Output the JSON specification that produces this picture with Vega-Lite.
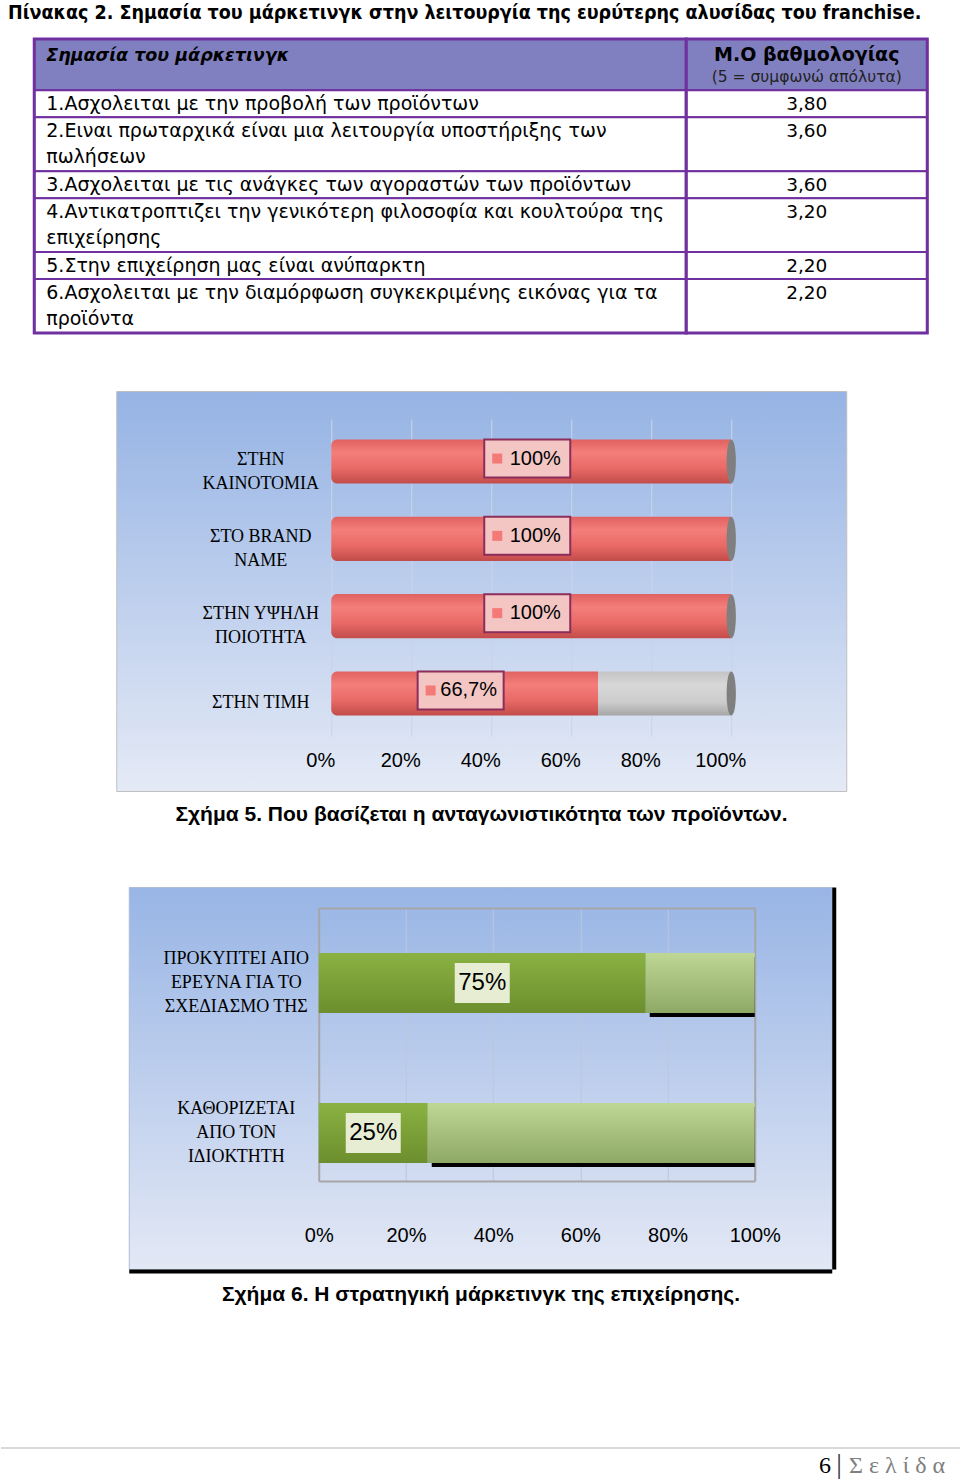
{
  "$schema": "https://vega.github.io/schema/vega-lite/v6.json",
  "background": "white",
  "padding": {"top": 3, "bottom": 0, "left": 0, "right": 0},
  "title": {
    "text": "Πίνακας 2. Σημασία του μάρκετινγκ στην λειτουργία της ευρύτερης αλυσίδας  του franchise.",
    "anchor": "start",
    "frame": "group",
    "font": "Liberation Sans Narrow, DejaVu Sans Condensed, Liberation Sans",
    "fontSize": 19.5,
    "fontWeight": "bold",
    "color": "#000000",
    "offset": 14,
    "dx": 7
  },
  "spacing": 0,
  "bounds": "full",
  "center": true,
  "resolve": {"scale": {"x": "independent", "y": "independent"}},
  "config": {
    "view": {"stroke": null},
    "axis": {"labelFlush": false, "labelOverlap": false}
  },
  "datasets": {
    "table": [
      {"n": 0, "desc": "Σημασία του μάρκετινγκ", "scoreLabel": "Μ.Ο βαθμολογίας", "note": "(5 = συμφωνώ απόλυτα)"},
      {"n": 1, "desc": "1.Ασχολειται με την προβολή των προϊόντων", "score": 3.8},
      {"n": 2, "desc": ["2.Ειναι πρωταρχικά είναι μια λειτουργία υποστήριξης των", "πωλήσεων"], "score": 3.6},
      {"n": 3, "desc": "3.Ασχολειται με τις ανάγκες των αγοραστών των προϊόντων", "score": 3.6},
      {"n": 4, "desc": ["4.Αντικατροπτιζει την γενικότερη φιλοσοφία και κουλτούρα της", "επιχείρησης"], "score": 3.2},
      {"n": 5, "desc": "5.Στην επιχείρηση μας είναι ανύπαρκτη", "score": 2.2},
      {"n": 6, "desc": ["6.Ασχολειται με την διαμόρφωση συγκεκριμένης εικόνας για τα", "προϊόντα"], "score": 2.2}
    ],
    "c1": [
      {"cat": "ΣΤΗΝ\nΚΑΙΝΟΤΟΜΙΑ", "grp": "Ναι", "pct": 1},
      {"cat": "ΣΤΗΝ\nΚΑΙΝΟΤΟΜΙΑ", "grp": "Όχι", "pct": 0},
      {"cat": "ΣΤΟ BRAND\nNAME", "grp": "Ναι", "pct": 1},
      {"cat": "ΣΤΟ BRAND\nNAME", "grp": "Όχι", "pct": 0},
      {"cat": "ΣΤΗΝ ΥΨΗΛΗ\nΠΟΙΟΤΗΤΑ", "grp": "Ναι", "pct": 1},
      {"cat": "ΣΤΗΝ ΥΨΗΛΗ\nΠΟΙΟΤΗΤΑ", "grp": "Όχι", "pct": 0},
      {"cat": "ΣΤΗΝ ΤΙΜΗ", "grp": "Ναι", "pct": 0.667},
      {"cat": "ΣΤΗΝ ΤΙΜΗ", "grp": "Όχι", "pct": 0.333}
    ],
    "c2": [
      {"cat": "ΠΡΟΚΥΠΤΕΙ ΑΠΟ\nΕΡΕΥΝΑ ΓΙΑ ΤΟ\nΣΧΕΔΙΑΣΜΟ ΤΗΣ", "grp": "Ναι", "pct": 0.75},
      {"cat": "ΠΡΟΚΥΠΤΕΙ ΑΠΟ\nΕΡΕΥΝΑ ΓΙΑ ΤΟ\nΣΧΕΔΙΑΣΜΟ ΤΗΣ", "grp": "Όχι", "pct": 0.25},
      {"cat": "ΚΑΘΟΡΙΖΕΤΑΙ\nΑΠΟ ΤΟΝ\nΙΔΙΟΚΤΗΤΗ", "grp": "Ναι", "pct": 0.25},
      {"cat": "ΚΑΘΟΡΙΖΕΤΑΙ\nΑΠΟ ΤΟΝ\nΙΔΙΟΚΤΗΤΗ", "grp": "Όχι", "pct": 0.75}
    ]
  },
  "vconcat": [
    {
      "data": {"name": "table"},
      "transform": [
        {"calculate": "datum.n == 0 ? 1.9 : (isArray(datum.desc) ? length(datum.desc) : 1)", "as": "h"},
        {"window": [{"op": "sum", "field": "h", "as": "y1"}], "sort": [{"field": "n", "order": "ascending"}], "frame": [null, 0]},
        {"calculate": "datum.y1 - datum.h", "as": "y0"}
      ],
      "spacing": 0,
      "bounds": "flush",
      "hconcat": [
        {
          "width": 652,
          "height": 351,
          "layer": [
            {
              "mark": {"type": "rect", "stroke": "#7030A0", "strokeWidth": 2},
              "encoding": {
                "y": {"field": "y0", "type": "quantitative", "scale": {"domain": [0, 10.9], "range": [0, 294], "nice": false, "zero": false}, "axis": null},
                "y2": {"field": "y1"},
                "fill": {"condition": {"test": "datum.n == 0", "value": "#8080C0"}, "value": "#FFFFFF"}
              }
            },
            {
              "transform": [{"aggregate": [{"op": "min", "field": "y0", "as": "top"}, {"op": "max", "field": "y1", "as": "bottom"}]}],
              "mark": {"type": "rect", "fill": "#FFFFFF", "fillOpacity": 0, "stroke": "#7030A0", "strokeWidth": 3},
              "encoding": {"y": {"field": "top", "type": "quantitative"}, "y2": {"field": "bottom"}}
            },
            {
              "transform": [{"filter": "datum.n == 0"}],
              "mark": {"type": "text", "align": "left", "baseline": "top", "dx": 12, "dy": 8, "font": "DejaVu Sans", "fontSize": 17.5, "fontWeight": "bold", "fontStyle": "italic", "color": "#000000"},
              "encoding": {"x": {"value": 0}, "y": {"field": "y0", "type": "quantitative"}, "text": {"field": "desc"}}
            },
            {
              "transform": [{"filter": "datum.n > 0"}],
              "mark": {"type": "text", "align": "left", "baseline": "top", "dx": 12, "dy": 5, "font": "DejaVu Sans", "fontSize": 19, "lineHeight": 26, "color": "#000000"},
              "encoding": {"x": {"value": 0}, "y": {"field": "y0", "type": "quantitative"}, "text": {"field": "desc"}}
            }
          ]
        },
        {
          "width": 241,
          "height": 351,
          "layer": [
            {
              "mark": {"type": "rect", "stroke": "#7030A0", "strokeWidth": 2},
              "encoding": {
                "y": {"field": "y0", "type": "quantitative", "scale": {"domain": [0, 10.9], "range": [0, 294], "nice": false, "zero": false}, "axis": null},
                "y2": {"field": "y1"},
                "fill": {"condition": {"test": "datum.n == 0", "value": "#8080C0"}, "value": "#FFFFFF"}
              }
            },
            {
              "transform": [{"aggregate": [{"op": "min", "field": "y0", "as": "top"}, {"op": "max", "field": "y1", "as": "bottom"}]}],
              "mark": {"type": "rect", "fill": "#FFFFFF", "fillOpacity": 0, "stroke": "#7030A0", "strokeWidth": 3},
              "encoding": {"y": {"field": "top", "type": "quantitative"}, "y2": {"field": "bottom"}}
            },
            {
              "transform": [{"filter": "datum.n == 0"}],
              "mark": {"type": "text", "align": "center", "baseline": "top", "dy": 7, "font": "DejaVu Sans", "fontSize": 19, "fontWeight": "bold", "color": "#000000"},
              "encoding": {"y": {"field": "y0", "type": "quantitative"}, "text": {"field": "scoreLabel"}}
            },
            {
              "transform": [{"filter": "datum.n == 0"}],
              "mark": {"type": "text", "align": "center", "baseline": "top", "dy": 31, "font": "DejaVu Sans", "fontSize": 15.5, "color": "#222222"},
              "encoding": {"y": {"field": "y0", "type": "quantitative"}, "text": {"field": "note"}}
            },
            {
              "transform": [{"filter": "datum.n > 0"}, {"calculate": "replace(format(datum.score, '.2f'), '.', ',')", "as": "scoreText"}],
              "mark": {"type": "text", "align": "center", "baseline": "top", "dy": 5, "font": "DejaVu Sans", "fontSize": 18.5, "color": "#000000"},
              "encoding": {"y": {"field": "y0", "type": "quantitative"}, "text": {"field": "scoreText"}}
            }
          ]
        }
      ]
    },
    {
      "width": 730,
      "height": 400,
      "view": {
        "fill": {"gradient": "linear", "x1": 0, "y1": 0, "x2": 0, "y2": 1, "stops": [{"offset": 0, "color": "#95B3E4"}, {"offset": 1, "color": "#E5EAF6"}]},
        "stroke": "#BFBFBF",
        "strokeWidth": 1
      },
      "data": {"name": "c1"},
      "transform": [
        {"stack": "pct", "groupby": ["cat"], "sort": [{"field": "grp", "order": "descending"}], "as": ["x0", "x1"]},
        {"calculate": "(datum.x0 + datum.x1) / 2", "as": "mid"},
        {"calculate": "replace(format(datum.pct, '.1~%'), '.', ',')", "as": "lbl"}
      ],
      "encoding": {
        "y": {
          "field": "cat", "type": "nominal", "sort": null,
          "scale": {"range": [28, 345], "paddingInner": 0.43, "paddingOuter": 0.265},
          "axis": {"orient": "left", "offset": -144, "labelPadding": 0, "labelAlign": "center", "labelBaseline": "middle",
            "labelOffset": {"condition": {"test": "indexof(datum.value, '\\n') >= 0", "value": -2}, "value": 10},
            "labelExpr": "split(datum.label, '\\n')", "labelFont": "Liberation Serif", "labelFontSize": 18, "labelLineHeight": 24, "labelColor": "#000000", "labelLimit": 0, "domain": false, "ticks": false, "grid": false, "title": null}
        }
      },
      "layer": [
        {
          "transform": [{"filter": "datum.grp == 'Ναι'"}],
          "mark": {"type": "bar", "cornerRadiusTopLeft": 6, "cornerRadiusBottomLeft": 6,
            "color": {"gradient": "linear", "x1": 0, "y1": 0, "x2": 0, "y2": 1, "stops": [{"offset": 0, "color": "#E06260"}, {"offset": 0.3, "color": "#F47E7B"}, {"offset": 0.65, "color": "#E96A67"}, {"offset": 1, "color": "#C24C4A"}]}},
          "encoding": {
            "x": {"field": "x0", "type": "quantitative", "scale": {"domain": [0, 1], "range": [215, 615], "nice": false, "zero": false},
              "axis": {"orient": "bottom", "offset": -45, "values": [0, 0.2, 0.4, 0.6, 0.8, 1], "format": ".0%", "labelOffset": -11, "labelPadding": 4, "labelBaseline": "top", "labelFont": "Liberation Sans", "labelFontSize": 20, "labelColor": "#000000", "domain": false, "ticks": false, "grid": false, "title": null}},
            "x2": {"field": "x1"}
          }
        },
        {
          "transform": [{"filter": "datum.grp == 'Όχι' && datum.pct > 0"}],
          "mark": {"type": "bar",
            "color": {"gradient": "linear", "x1": 0, "y1": 0, "x2": 0, "y2": 1, "stops": [{"offset": 0, "color": "#C4C4C4"}, {"offset": 0.3, "color": "#D8D8D8"}, {"offset": 0.7, "color": "#CCCCCC"}, {"offset": 1, "color": "#A6A6A6"}]}},
          "encoding": {"x": {"field": "x0", "type": "quantitative", "axis": null}, "x2": {"field": "x1"}}
        },
        {
          "transform": [{"filter": "datum.grp == 'Ναι'"}],
          "mark": {"type": "point", "shape": "M0,-1C0.28,-1 0.28,1 0,1C-0.28,1 -0.28,-1 0,-1Z", "size": 1936, "filled": true, "color": "#7F7F7F", "opacity": 1},
          "encoding": {
            "x": {"datum": 1, "type": "quantitative",
              "axis": {"orient": "top", "values": [0, 0.2, 0.4, 0.6, 0.8, 1], "domain": false, "ticks": false, "labels": false, "grid": true, "gridColor": "#C9D3E8", "gridWidth": 1, "title": null}}
          }
        },
        {
          "transform": [{"filter": "datum.grp == 'Ναι'"}],
          "mark": {"type": "point", "shape": "M-1,-0.442H1V0.442H-1Z", "size": 7396, "filled": true, "fill": "#F3C6C4", "stroke": "#8C2D5B", "strokeWidth": 2, "opacity": 1, "xOffset": -4, "yOffset": -3},
          "encoding": {"x": {"field": "mid", "type": "quantitative", "axis": null}}
        },
        {
          "transform": [{"filter": "datum.grp == 'Ναι'"}],
          "mark": {"type": "point", "shape": "square", "size": 100, "filled": true, "color": "#F47A78", "opacity": 1, "xOffset": -34, "yOffset": -3},
          "encoding": {"x": {"field": "mid", "type": "quantitative", "axis": null}}
        },
        {
          "transform": [{"filter": "datum.grp == 'Ναι'"}],
          "mark": {"type": "text", "font": "Liberation Sans", "fontSize": 20, "dx": 4, "dy": -3, "color": "#000000"},
          "encoding": {"x": {"field": "mid", "type": "quantitative", "axis": null}, "text": {"field": "lbl"}}
        }
      ],
      "resolve": {"axis": {"x": "independent"}}
    },
    {
      "width": 960,
      "height": 94,
      "data": {"values": [{"caption": "Σχήμα 5. Που βασίζεται η ανταγωνιστικότητα των προϊόντων."}]},
      "mark": {"type": "text", "font": "Liberation Sans", "fontSize": 21, "fontWeight": "bold", "dy": -24, "color": "#000000"},
      "encoding": {"text": {"field": "caption"}}
    },
    {
      "width": 703,
      "height": 382,
      "view": {
        "fill": {"gradient": "linear", "x1": 0, "y1": 0, "x2": 0, "y2": 1, "stops": [{"offset": 0, "color": "#98B5E5"}, {"offset": 1, "color": "#E3E8F5"}]},
        "stroke": "#AEBCD8",
        "strokeWidth": 1
      },
      "layer": [
        {
          "data": {"name": "c2"},
          "transform": [
            {"stack": "pct", "groupby": ["cat"], "sort": [{"field": "grp", "order": "descending"}], "as": ["x0", "x1"]},
            {"calculate": "(datum.x0 + datum.x1) / 2", "as": "mid"},
            {"calculate": "replace(format(datum.pct, '.1~%'), '.', ',')", "as": "lbl"}
          ],
          "encoding": {
            "y": {
              "field": "cat", "type": "nominal", "sort": null,
              "scale": {"range": [21, 294], "paddingInner": 0.6, "paddingOuter": 0.21, "align": 0.714},
              "axis": {"orient": "left", "offset": -107, "labelPadding": 0, "labelAlign": "center", "labelBaseline": "middle", "labelOffset": -24, "labelExpr": "split(datum.label, '\\n')", "labelFont": "Liberation Serif", "labelFontSize": 18, "labelLineHeight": 24, "labelColor": "#000000", "labelLimit": 0, "domain": false, "ticks": false, "grid": false, "title": null}
            }
          },
          "layer": [
            {
              "transform": [{"filter": "datum.grp == 'Όχι'"}],
              "mark": {"type": "bar", "color": "#000000", "xOffset": 4, "yOffset": 4},
              "encoding": {
                "x": {"field": "x0", "type": "quantitative", "scale": {"domain": [0, 1], "range": [190, 626], "nice": false, "zero": false},
                  "axis": {"orient": "bottom", "offset": -88, "values": [0, 0.2, 0.4, 0.6, 0.8, 1], "format": ".0%", "labelPadding": 44, "labelBaseline": "top", "labelFont": "Liberation Sans", "labelFontSize": 20, "labelColor": "#000000", "domain": true, "domainColor": "#A6A6A6", "domainWidth": 2, "ticks": false, "grid": false, "title": null}},
                "x2": {"field": "x1"}
              }
            },
            {
              "transform": [{"filter": "datum.grp == 'Ναι'"}],
              "mark": {"type": "bar",
                "color": {"gradient": "linear", "x1": 0, "y1": 0, "x2": 0, "y2": 1, "stops": [{"offset": 0, "color": "#8AB242"}, {"offset": 1, "color": "#6C8E2E"}]}},
              "encoding": {
                "x": {"field": "x0", "type": "quantitative",
                  "axis": {"orient": "top", "offset": -21, "values": [0, 0.2, 0.4, 0.6, 0.8, 1], "labels": false, "ticks": false, "domain": true, "domainColor": "#A6A6A6", "domainWidth": 2, "grid": true,
                    "gridColor": {"condition": {"test": "datum.value == 0 || datum.value == 1", "value": "#A6A6A6"}, "value": "#BCC6DA"},
                    "gridWidth": {"condition": {"test": "datum.value == 0 || datum.value == 1", "value": 2}, "value": 1},
                    "title": null}},
                "x2": {"field": "x1"}
              }
            },
            {
              "transform": [{"filter": "datum.grp == 'Όχι'"}],
              "mark": {"type": "bar",
                "color": {"gradient": "linear", "x1": 0, "y1": 0, "x2": 0, "y2": 1, "stops": [{"offset": 0, "color": "#BFD794"}, {"offset": 1, "color": "#8EA865"}]}},
              "encoding": {"x": {"field": "x0", "type": "quantitative", "axis": null}, "x2": {"field": "x1"}}
            },
            {
              "transform": [{"filter": "datum.grp == 'Ναι'"}],
              "mark": {"type": "point", "shape": "M-1,-0.727H1V0.727H-1Z", "size": 3025, "filled": true, "color": "#E6EDD3", "opacity": 1},
              "encoding": {"x": {"field": "mid", "type": "quantitative", "axis": null}}
            },
            {
              "transform": [{"filter": "datum.grp == 'Ναι'"}],
              "mark": {"type": "text", "font": "Liberation Sans", "fontSize": 24, "color": "#000000"},
              "encoding": {"x": {"field": "mid", "type": "quantitative", "axis": null}, "text": {"field": "lbl"}}
            }
          ],
          "resolve": {"axis": {"x": "independent"}}
        },
        {
          "data": {"values": [{}]},
          "mark": {"type": "point", "opacity": 0},
          "encoding": {
            "x": {"datum": 0, "type": "quantitative", "scale": {"domain": [0, 1], "nice": false},
              "axis": {"orient": "bottom", "offset": 2, "domain": true, "domainColor": "#000000", "domainWidth": 4, "labels": false, "ticks": false, "grid": false, "title": null}},
            "y": {"datum": 0, "type": "quantitative", "scale": {"domain": [0, 1], "nice": false},
              "axis": {"orient": "right", "offset": 2, "domain": true, "domainColor": "#000000", "domainWidth": 4, "labels": false, "ticks": false, "grid": false, "title": null}}
          }
        }
      ],
      "resolve": {"scale": {"x": "independent", "y": "independent"}, "axis": {"x": "independent", "y": "independent"}}
    },
    {
      "width": 960,
      "height": 213,
      "data": {"values": [{"caption": "Σχήμα 6.  Η στρατηγική μάρκετινγκ της επιχείρησης.", "page": "6", "word": "Σ ε λ ί δ α"}]},
      "layer": [
        {
          "mark": {"type": "text", "font": "Liberation Sans", "fontSize": 21, "fontWeight": "bold", "dy": -84.5, "color": "#000000"},
          "encoding": {"text": {"field": "caption"}}
        },
        {
          "mark": {"type": "rule", "color": "#D9D9D9", "strokeWidth": 2},
          "encoding": {"y": {"value": 175}}
        },
        {
          "mark": {"type": "text", "font": "Liberation Serif", "fontSize": 24, "align": "right", "baseline": "middle", "color": "#000000"},
          "encoding": {"x": {"value": 830}, "y": {"value": 193}, "text": {"field": "page"}}
        },
        {
          "mark": {"type": "text", "font": "Liberation Serif", "fontSize": 28, "align": "center", "baseline": "middle", "color": "#333333"},
          "encoding": {"x": {"value": 838}, "y": {"value": 192}, "text": {"value": "|"}}
        },
        {
          "mark": {"type": "text", "font": "Liberation Serif", "fontSize": 24, "align": "left", "baseline": "middle", "color": "#808080"},
          "encoding": {"x": {"value": 848}, "y": {"value": 193}, "text": {"field": "word"}}
        }
      ]
    }
  ]
}
